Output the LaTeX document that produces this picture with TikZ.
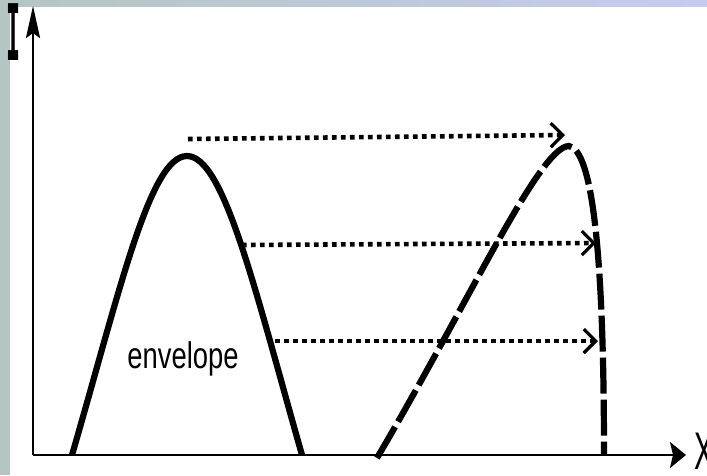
\documentclass[tikz,border=0pt]{standalone}
\usepackage{fontspec}
\setmainfont{Liberation Sans}
\newfontfamily\assefont{DejaVu Sans Mono}
\usetikzlibrary{arrows.meta, calc}
\definecolor{bordogrigio}{HTML}{B4C6C2}
\definecolor{bordoblu}{HTML}{D0DCF8}
\definecolor{bordoviola}{HTML}{C4CCF0}

\begin{document}
\begin{tikzpicture}[x=1pt,y=-1pt,>=Stealth,
  assi/.style={line width=2.4pt},
  inviluppo/.style={line width=6.2pt, line join=round},
  spostata/.style={line width=6.2pt, dash pattern=on 36pt off 6pt},
  freccia/.style={line width=4.6pt, dash pattern=on 4.6pt off 4.4pt,
    -{Straight Barb[length=12pt,width=24pt,line width=3.2pt]}}]

% ---- sfondo e bordi ----
\useasboundingbox (0,0) rectangle (707,475);
\fill[white] (0,0) rectangle (707,475);
\fill[bordogrigio] (0,0) rectangle (10,475);
\shade[left color=bordogrigio, middle color=bordoblu, right color=bordoviola]
  (0,0) rectangle (707,6);

% ---- assi ----
\coordinate (O) at (33,455);
\coordinate (ytip) at (33,6);
\coordinate (xtip) at (686,455);
\draw[assi,-{Stealth[length=32pt,width=14pt,inset=5pt]}] (O) -- (ytip);
\draw[assi,-{Stealth[length=16pt,width=26pt,inset=3pt]}] (O) -- (xtip);
\node[inner sep=0pt] (I) at (14,32) {\scalebox{0.3}[1]{\assefont\bfseries\fontsize{78}{80}\selectfont I}};
\node[anchor=west,inner sep=0pt] (X) at (694,451) {\scalebox{0.55}[1]{\fontsize{53}{56}\selectfont X}};

% ---- inviluppo ----
\draw[inviluppo] (72,455) .. controls (120,290) and (150,156) .. (187,156)
  .. controls (224,156) and (255,290) .. (302,455);
\node[anchor=base] (env) at (183,368) {\scalebox{0.74}[1]{\fontsize{37}{40}\selectfont envelope}};

% ---- curva spostata (tratteggiata) ----
\draw[spostata] (377,458) .. controls (470,300) and (540,146) .. (569,146)
  .. controls (592,150) and (604,250) .. (604,455);

% ---- frecce puntinate ----
\coordinate (a1) at (188,139);  \coordinate (b1) at (565,135);
\coordinate (a2) at (242,245);  \coordinate (b2) at (596,243);
\coordinate (a3) at (275,341);  \coordinate (b3) at (598,341);
\foreach \i in {1,2,3}
  \draw[freccia] (a\i) -- (b\i);

\end{tikzpicture}
\end{document}
